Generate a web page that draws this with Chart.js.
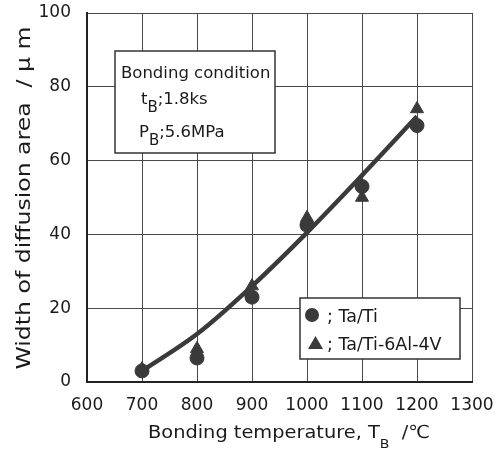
<!DOCTYPE html>
<html>
<head>
<meta charset="utf-8">
<script src="https://cdn.jsdelivr.net/npm/chart.js@4.4.0/dist/chart.umd.min.js"></script>
<style>
  html, body { margin: 0; padding: 0; background: #fff; }
  #wrap { width: 495px; height: 449px; }
</style>
</head>
<body>
<div id="wrap"><canvas id="chart" width="495" height="449"></canvas></div>
<script>
// values
var tempTaTi = [700, 800, 900, 1000, 1100, 1200];
var widthTaTi = [3, 6.5, 23, 42.5, 53, 69.5];
var tempTaTi64 = [700, 800, 900, 1000, 1100, 1200];
var widthTaTi64 = [3.5, 9, 26, 44.5, 50, 74];
var curveTemp = [700, 800, 900, 1000, 1100, 1200];
var curveWidth = [3, 13, 26, 40.5, 56, 72];
var xTicks = [600, 700, 800, 900, 1000, 1100, 1200, 1300];
var yTicks = [0, 20, 40, 60, 80, 100];

var ink = '#3a3a3a';
var font = 'DejaVu Sans';

function pts(xs, ys) {
  return xs.map(function (x, i) { return { x: x, y: ys[i] }; });
}

// text with subscript parts
function drawParts(ctx, parts, x, y, size, subSize, subDy) {
  var cx = x;
  parts.forEach(function (p) {
    ctx.font = (p.sub ? subSize : size) + 'px "' + font + '"';
    ctx.fillText(p.t, cx, y + (p.sub ? subDy : 0));
    cx += ctx.measureText(p.t).width;
  });
  return cx;
}
function partsWidth(ctx, parts, size, subSize) {
  var w = 0;
  parts.forEach(function (p) {
    ctx.font = (p.sub ? subSize : size) + 'px "' + font + '"';
    w += ctx.measureText(p.t).width;
  });
  return w;
}

var extras = {
  id: 'extras',
  afterDraw: function (chart) {
    var ctx = chart.ctx;
    ctx.save();
    ctx.fillStyle = '#1a1a1a';
    ctx.textBaseline = 'alphabetic';

    // x axis title
    var xt = [{ t: 'Bonding temperature, T' }, { t: 'B', sub: true }, { t: '  /\u2103' }];
    var w = partsWidth(ctx, xt, 18, 13);
    ctx.save();
    ctx.translate(148, 438);
    ctx.scale(282 / w, 1);
    drawParts(ctx, xt, 0, 0, 18, 13, 10);
    ctx.restore();

    // y axis title
    ctx.save();
    ctx.translate(30, 198);
    ctx.rotate(-Math.PI / 2);
    ctx.font = '20px "' + font + '"';
    ctx.textAlign = 'center';
    var yt = 'Width of diffusion area  / \u03bc m';
    var yw = ctx.measureText(yt).width;
    ctx.scale(343 / yw, 1);
    ctx.fillText(yt, 0, 0);
    ctx.restore();

    // bonding condition box
    ctx.fillStyle = '#fff';
    ctx.strokeStyle = '#333';
    ctx.lineWidth = 1.5;
    ctx.fillRect(115, 51, 160, 102);
    ctx.strokeRect(115, 51, 160, 102);
    ctx.fillStyle = '#1a1a1a';
    ctx.font = '16.5px "' + font + '"';
    ctx.fillText('Bonding condition', 121, 78);
    drawParts(ctx, [{ t: 't' }, { t: 'B', sub: true }, { t: ';1.8ks' }], 141, 104, 16.5, 15, 8);
    drawParts(ctx, [{ t: 'P' }, { t: 'B', sub: true }, { t: ';5.6MPa' }], 139, 137, 16.5, 15, 8);

    // legend box
    ctx.fillStyle = '#fff';
    ctx.fillRect(300, 298, 160, 61);
    ctx.strokeRect(300, 298, 160, 61);
    ctx.fillStyle = ink;
    ctx.beginPath();
    ctx.arc(312, 315, 7, 0, Math.PI * 2);
    ctx.fill();
    ctx.beginPath();
    ctx.moveTo(315.5, 336);
    ctx.lineTo(323, 349);
    ctx.lineTo(308, 349);
    ctx.closePath();
    ctx.fill();
    ctx.fillStyle = '#1a1a1a';
    ctx.font = '17.5px "' + font + '"';
    ctx.fillText('; ' + chart.data.datasets[1].label, 327, 322);
    ctx.fillText('; ' + chart.data.datasets[2].label, 327, 350);
    ctx.restore();
  }
};

new Chart(document.getElementById('chart'), {
  type: 'scatter',
  data: {
    datasets: [
      {
        label: 'fit',
        type: 'line',
        data: pts(curveTemp, curveWidth),
        borderColor: ink,
        borderWidth: 4.5,
        pointRadius: 0,
        tension: 0.35,
        fill: false
      },
      {
        label: 'Ta/Ti',
        data: pts(tempTaTi, widthTaTi),
        pointStyle: 'circle',
        pointRadius: 7,
        backgroundColor: ink,
        borderColor: ink
      },
      {
        label: 'Ta/Ti-6Al-4V',
        data: pts(tempTaTi64, widthTaTi64),
        pointStyle: 'triangle',
        pointRadius: 7.5,
        backgroundColor: ink,
        borderColor: ink
      }
    ]
  },
  options: {
    responsive: false,
    animation: false,
    layout: { padding: { top: 13, right: 23, left: 0, bottom: 0 } },
    plugins: { legend: { display: false }, tooltip: { enabled: false } },
    scales: {
      x: {
        type: 'linear',
        min: 600, max: 1300,
        afterBuildTicks: function (s) { s.ticks = xTicks.map(function (v) { return { value: v }; }); },
        afterFit: function (s) { s.height = 67; s.paddingLeft = 0; s.paddingRight = 0; },
        grid: { color: '#4a4a4a', lineWidth: 1, drawTicks: false },
        border: { color: '#222', width: 2 },
        ticks: {
          color: '#1a1a1a', padding: 13, font: { family: font, size: 17 },
          callback: function (v) { return String(v); }
        }
      },
      y: {
        min: 0, max: 100,
        afterBuildTicks: function (s) { s.ticks = yTicks.map(function (v) { return { value: v }; }); },
        afterFit: function (s) { s.width = 87; s.paddingTop = 0; s.paddingBottom = 0; },
        grid: { color: '#4a4a4a', lineWidth: 1, drawTicks: false },
        border: { color: '#222', width: 2 },
        ticks: {
          color: '#1a1a1a', padding: 16, font: { family: font, size: 17 },
          callback: function (v) { return String(v); }
        }
      }
    }
  },
  plugins: [extras]
});
</script>
</body>
</html>
